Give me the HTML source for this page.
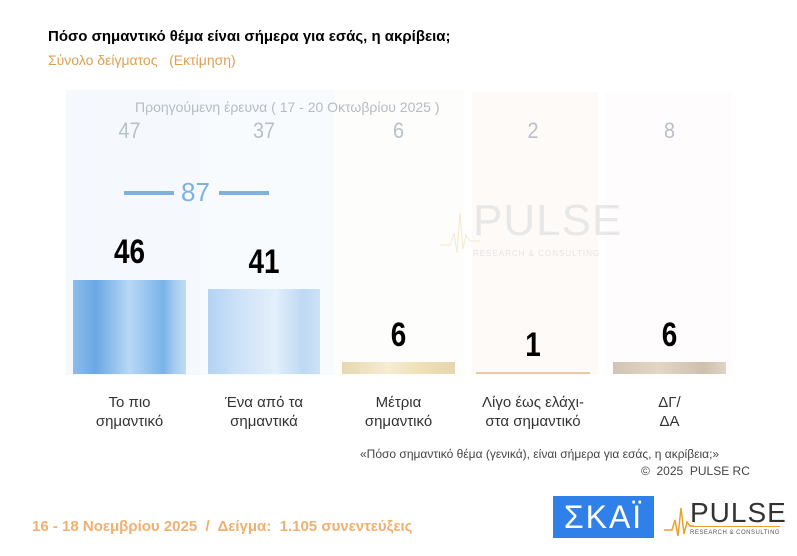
<!DOCTYPE html>
<html><head><meta charset="utf-8"><style>
body{margin:0;width:797px;height:556px;background:#fff;position:relative;overflow:hidden;font-family:"Liberation Sans","DejaVu Sans",sans-serif}
.a{position:absolute}
.c{position:absolute;text-align:center}
.v{font-weight:bold;font-size:34px;color:#000;transform:scaleX(0.82)}
.p{font-size:22px;color:#b9c0c8;transform:scaleX(0.9)}
.l{font-size:15px;color:#333;line-height:19px}
</style></head><body>
<div class="a" style="left:48px;top:28px;font-size:15px;font-weight:bold;color:#000">Πόσο σημαντικό θέμα είναι σήμερα για εσάς, η ακρίβεια;</div>
<div class="a" style="left:48px;top:52px;font-size:14px;color:#e0a050">Σύνολο δείγματος &nbsp;&nbsp;(Εκτίμηση)</div>

<div class="a" style="left:66px;top:90px;width:134px;height:285px;background:#f5f9fe"></div>
<div class="a" style="left:200px;top:90px;width:134px;height:285px;background:#f8fbfe"></div>
<div class="a" style="left:334px;top:90px;width:130px;height:285px;background:#fdfdfc"></div>
<div class="a" style="left:472px;top:92px;width:126px;height:283px;background:#fefaf8"></div>
<div class="a" style="left:605px;top:92px;width:127px;height:283px;background:#fefcfc"></div>

<div class="a" style="left:135px;top:99px;font-size:14px;color:#b5bcc4">Προηγούμενη έρευνα ( 17 - 20 Οκτωβρίου 2025 )</div>
<div class="c p" style="left:73px;width:113px;top:118px">47</div>
<div class="c p" style="left:208px;width:112px;top:118px">37</div>
<div class="c p" style="left:342px;width:113px;top:118px">6</div>
<div class="c p" style="left:476px;width:114px;top:118px">2</div>
<div class="c p" style="left:613px;width:113px;top:118px">8</div>

<div class="a" style="left:124px;top:191px;width:50px;height:4px;background:#7fb0e0"></div>
<div class="a" style="left:181px;top:177px;font-size:26px;color:#7fb0e0">87</div>
<div class="a" style="left:219px;top:191px;width:50px;height:4px;background:#7fb0e0"></div>

<svg class="a" style="left:440px;top:205px" width="40" height="50"><polyline points="0,40 10,40 14,28 17,48 20,8 23,44 26,30 30,36 40,36" fill="none" stroke="#f4e8cc" stroke-width="1"/></svg>
<div class="a" style="left:473px;top:196px;font-size:44px;color:#e8e8e8;letter-spacing:1px">PULSE</div>
<div class="a" style="left:473px;top:249px;font-size:8px;color:#e4e4e4;letter-spacing:1px">RESEARCH &amp; CONSULTING</div>

<div class="a" style="left:73px;top:280px;width:113px;height:94px;background:linear-gradient(90deg,#8cbdeb,#6aa8e4 20%,#b8d8f5 50%,#7ab3e8 80%,#a6cbef 90%,#c0dcf5)"></div>
<div class="a" style="left:208px;top:289px;width:112px;height:85px;background:linear-gradient(90deg,#b3d3f3,#cfe3f8 30%,#e3effb 60%,#bed9f4 85%,#cce2f7)"></div>
<div class="a" style="left:342px;top:362px;width:113px;height:12px;background:linear-gradient(90deg,#e8d7b0,#f6ecd3 40%,#efe0b8 70%,#e6d6b0)"></div>
<div class="a" style="left:476px;top:372px;width:114px;height:2px;background:#e9c9a6"></div>
<div class="a" style="left:613px;top:362px;width:113px;height:12px;background:linear-gradient(90deg,#d2c4b4,#e3d6c6 40%,#cfc0ae 80%,#e0d4c8)"></div>

<div class="c v" style="left:73px;width:113px;top:233px">46</div>
<div class="c v" style="left:208px;width:112px;top:243px">41</div>
<div class="c v" style="left:342px;width:113px;top:316px">6</div>
<div class="c v" style="left:476px;width:114px;top:326px">1</div>
<div class="c v" style="left:613px;width:113px;top:316px">6</div>

<div class="c l" style="left:73px;width:113px;top:393px">Το πιο<br>σημαντικό</div>
<div class="c l" style="left:208px;width:112px;top:393px">Ένα από τα<br>σημαντικά</div>
<div class="c l" style="left:342px;width:113px;top:393px">Μέτρια<br>σημαντικό</div>
<div class="c l" style="left:470px;width:126px;top:393px">Λίγο έως ελάχι-<br>στα σημαντικό</div>
<div class="c l" style="left:613px;width:113px;top:393px">ΔΓ/<br>ΔΑ</div>

<div class="a" style="left:360px;top:447px;font-size:12px;color:#444">«Πόσο σημαντικό θέμα (γενικά), είναι σήμερα για εσάς, η ακρίβεια;»</div>
<div class="a" style="left:641px;top:464px;font-size:12px;color:#444">©&nbsp; 2025&nbsp; PULSE RC</div>

<div class="a" style="left:32px;top:518px;font-size:15px;font-weight:bold;color:#f0b070">16 - 18 Νοεμβρίου 2025 &nbsp;/&nbsp; Δείγμα:&nbsp; 1.105 συνεντεύξεις</div>

<div class="a" style="left:553px;top:496px;width:101px;height:42px;background:#2f80e8;color:#fff;font-size:32px;text-align:center;line-height:42px;letter-spacing:2px">ΣΚΑΪ</div>
<svg class="a" style="left:664px;top:500px" width="30" height="40"><polyline points="0,30 8,30 11,20 14,36 17,8 20,34 23,22 26,26 30,26" fill="none" stroke="#e8a030" stroke-width="1.5"/></svg>
<div class="a" style="left:690px;top:497px;font-size:28px;color:#333;letter-spacing:1px">PULSE</div>
<div class="a" style="left:690px;top:526px;width:90px;height:1px;background:#e8a030"></div>
<div class="a" style="left:690px;top:530px;font-size:6px;color:#555;letter-spacing:0.5px;white-space:nowrap">RESEARCH &amp; CONSULTING</div>
</body></html>
